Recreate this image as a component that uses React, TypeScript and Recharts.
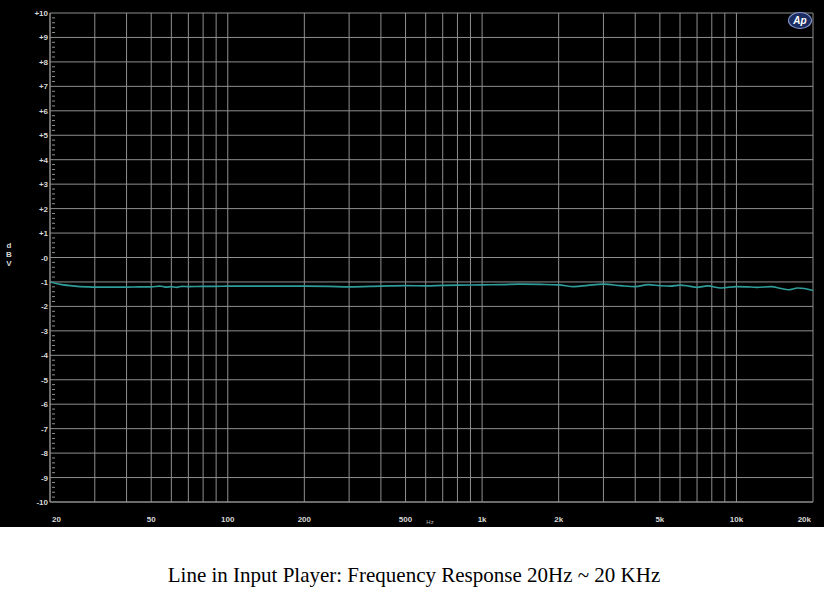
import {CartesianGrid, Line, LineChart, ReferenceLine, XAxis, YAxis} from 'recharts';

// frequency response sweep
const freqHz = [
  20, 22, 25, 28, 30, 35, 40, 45, 50, 54, 57, 60, 63, 66, 70, 80, 90, 100,
  130, 160, 200, 250, 300, 400, 500, 600, 700, 800, 1000, 1200, 1400, 1700,
  2000, 2300, 2600, 3000, 3500, 4000, 4500, 5000, 5500, 6000, 6500, 7000,
  7700, 8700, 10000, 11000, 12000, 13700, 15000, 16000, 17400, 18500, 20000,
];
const levelDbv = [
  -1.0, -1.1, -1.17, -1.2, -1.21, -1.21, -1.21, -1.2, -1.2, -1.17, -1.21,
  -1.19, -1.22, -1.18, -1.19, -1.18, -1.18, -1.17, -1.17, -1.17, -1.17,
  -1.18, -1.2, -1.17, -1.15, -1.16, -1.14, -1.13, -1.12, -1.11, -1.09, -1.1,
  -1.12, -1.19, -1.14, -1.09, -1.15, -1.19, -1.11, -1.15, -1.17, -1.13,
  -1.17, -1.22, -1.16, -1.25, -1.19, -1.2, -1.22, -1.19, -1.27, -1.32,
  -1.25, -1.27, -1.35,
];

const gridFreqs = [
  20, 30, 40, 50, 60, 70, 80, 90, 100, 200, 300, 400, 500, 600, 700, 800,
  900, 1000, 2000, 3000, 4000, 5000, 6000, 7000, 8000, 9000, 10000, 20000,
];
const labelledFreqs = [20, 50, 100, 200, 500, 1000, 2000, 5000, 10000, 20000];
const freqLabels = ['20', '50', '100', '200', '500', '1k', '2k', '5k', '10k', '20k'];

const majorDb = [10, 9, 8, 7, 6, 5, 4, 3, 2, 1, 0, -1, -2, -3, -4, -5, -6, -7, -8, -9, -10];
const minorSteps = [0.2, 0.4, 0.6, 0.8];
const allDbTicks = majorDb.flatMap((v) =>
  v > -10 ? [v, ...minorSteps.map((s) => Math.round((v - s) * 10) / 10)] : [v],
);

const data = freqHz.map((f, i) => ({freq: f, dbv: levelDbv[i]}));

const gridColor = '#8f8f8f';
const labelFont = '"Liberation Sans", Arial, sans-serif';

function FreqTick({x, y, payload}: any) {
  const idx = labelledFreqs.indexOf(payload.value);
  if (idx < 0) return <g />;
  const anchor = idx === 0 ? 'start' : idx === labelledFreqs.length - 1 ? 'end' : 'middle';
  const dx = idx === 0 ? 2 : idx === labelledFreqs.length - 1 ? -2 : 0;
  return (
    <text x={x + dx} y={y + 12} textAnchor={anchor} fill="#d8d8d8" fontSize={8} fontWeight="bold" fontFamily={labelFont}>
      {freqLabels[idx]}
    </text>
  );
}

// minor marks go just inside the axis line, labels only on whole dB
function DbTick({x, y, payload}: any) {
  const v = payload.value;
  if (!majorDb.includes(v)) {
    return <line x1={x + 5} y1={y} x2={x + 8} y2={y} stroke={gridColor} strokeWidth={1} />;
  }
  const label = v > 0 ? `+${v}` : v === 0 ? '-0' : `${v}`;
  return (
    <text x={x + 1} y={y + 3} textAnchor="end" fill="#d8d8d8" fontSize={8} fontWeight="bold" fontFamily={labelFont}>
      {label}
    </text>
  );
}

export default function App() {
  return (
    <div style={{position: 'absolute', left: 0, top: 0, width: 828, height: 591, background: '#fff'}}>
      <div style={{position: 'absolute', left: 0, top: 0, width: 824, height: 527, background: '#000'}}>
        <LineChart width={824} height={527} data={data} margin={{top: 13, right: 11, bottom: 5, left: 0}}>
          <CartesianGrid stroke={gridColor} strokeWidth={1} horizontal={false} />
          {majorDb.map((v) => (
            <ReferenceLine key={v} y={v} stroke={gridColor} strokeWidth={1} ifOverflow="visible" />
          ))}
          <XAxis
            dataKey="freq"
            type="number"
            scale="log"
            domain={[20, 20000]}
            ticks={gridFreqs}
            interval={0}
            allowDataOverflow
            tickLine={false}
            axisLine={{stroke: gridColor}}
            height={20}
            tick={<FreqTick />}
          />
          <YAxis
            type="number"
            domain={[-10, 10]}
            ticks={allDbTicks}
            interval={0}
            width={50}
            tickLine={false}
            tickSize={1}
            tickMargin={2}
            axisLine={{stroke: gridColor}}
            tick={<DbTick />}
          />
          <Line
            dataKey="dbv"
            type="monotone"
            stroke="#2f9c99"
            strokeWidth={1.6}
            dot={false}
            isAnimationActive={false}
          />
        </LineChart>
        <div style={{position: 'absolute', left: 5, top: 241, width: 8, fontFamily: labelFont, fontSize: 8, fontWeight: 'bold', color: '#d8d8d8', lineHeight: '9px', textAlign: 'center'}}>
          d<br />B<br />V
        </div>
        <div style={{position: 'absolute', left: 420, top: 519, width: 20, fontFamily: labelFont, fontSize: 6, color: '#bbb', textAlign: 'center'}}>
          Hz
        </div>
        <div style={{position: 'absolute', left: 788, top: 12, width: 22, height: 15, borderRadius: '50%', background: '#1c2d63', border: '1px solid #8a9ad0', color: '#fff', fontFamily: labelFont, fontSize: 10, fontStyle: 'italic', fontWeight: 'bold', lineHeight: '15px', textAlign: 'center'}}>
          Ap
        </div>
      </div>
      <div style={{position: 'absolute', left: 0, top: 561, width: 828, textAlign: 'center', fontFamily: '"Liberation Serif", "Times New Roman", serif', fontSize: 21, color: '#000', lineHeight: '28px'}}>
        Line in Input Player: Frequency Response 20Hz ~ 20 KHz
      </div>
    </div>
  );
}
